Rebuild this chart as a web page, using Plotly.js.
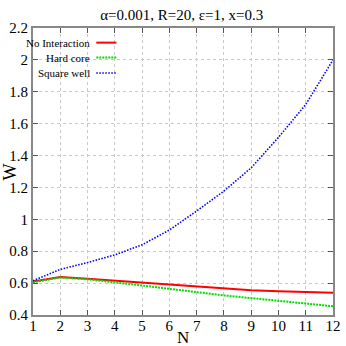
<!DOCTYPE html>
<html>
<head>
<meta charset="utf-8">
<script src="https://cdn.plot.ly/plotly-3.0.1.min.js"></script>
<style>html,body{margin:0;padding:0;background:#fff;}#chart{width:346px;height:346px;}</style>
</head>
<body>
<div id="chart"></div>
<script>
var N = [1, 2, 3, 4, 5, 6, 7, 8, 9, 10, 11, 12];
var noInteraction = [0.610, 0.638, 0.628, 0.616, 0.603, 0.589, 0.576, 0.565, 0.556, 0.549, 0.544, 0.539];
var hardCore = [0.605, 0.635, 0.624, 0.606, 0.585, 0.564, 0.542, 0.523, 0.506, 0.489, 0.472, 0.455];
var squareWell = [0.615, 0.686, 0.729, 0.777, 0.840, 0.933, 1.052, 1.177, 1.323, 1.514, 1.72, 2.0];
var seriesNames = ["No Interaction", "Hard core", "Square well"];
var seriesColors = ["#ff0000", "#00dd00", "#0000ff"];
var seriesDash = ["solid", "2px,1px", "1.5px,1.5px"];
var seriesWidth = [2, 2, 1.6];
var seriesValues = [noInteraction, hardCore, squareWell];
var titleText = "\u03b1=0.001, R=20, \u03b5=1, x=0.3";
var xTitle = "N";
var yTitle = "W";

var font = "Liberation Serif";
var traces = seriesValues.map(function (v, i) {
  return {x: N, y: v, type: "scatter", mode: "lines", name: seriesNames[i],
    line: {color: seriesColors[i], width: seriesWidth[i], dash: seriesDash[i]}, showlegend: false};
});

var legY = [0.949, 0.897, 0.843];
var annotations = seriesNames.map(function (n, i) {
  return {text: n, xref: "paper", yref: "paper", x: 0.197, y: legY[i], xanchor: "right", yanchor: "middle",
    showarrow: false, font: {family: font, size: 11, color: "#000"}};
});
annotations.push({text: xTitle, xref: "paper", yref: "paper", x: 0.5, y: -0.078, xanchor: "center", yanchor: "middle",
  showarrow: false, font: {family: font, size: 17, color: "#000"}});
annotations.push({text: yTitle, xref: "paper", yref: "paper", x: -0.077, y: 0.5, xanchor: "center", yanchor: "middle",
  textangle: -90, showarrow: false, font: {family: font, size: 18, color: "#000"}});
var shapes = seriesNames.map(function (n, i) {
  return {type: "line", xref: "paper", yref: "paper", x0: 0.211, x1: 0.278, y0: legY[i], y1: legY[i],
    line: {color: seriesColors[i], width: seriesWidth[i], dash: seriesDash[i]}};
});

var axisCommon = {
  showline: true, linecolor: "#888", linewidth: 2, mirror: "ticks",
  ticks: "inside", ticklen: 5, tickcolor: "#555", tickwidth: 1,
  showgrid: true, gridcolor: "#c8c8c8", griddash: "dot", gridwidth: 1,
  zeroline: false, automargin: false,
  tickfont: {family: font, size: 15, color: "#000"}
};

var layout = {
  width: 346, height: 346,
  margin: {l: 33, r: 13, t: 28, b: 31},
  paper_bgcolor: "#fff", plot_bgcolor: "#fff",
  title: {text: titleText, font: {family: font, size: 15, color: "#000"}, x: 0.525, xanchor: "center", y: 0.958, yanchor: "middle"},
  xaxis: Object.assign({}, axisCommon, {range: [1, 12], dtick: 1, tick0: 1, ticklabelstandoff: -4}),
  yaxis: Object.assign({}, axisCommon, {range: [0.4, 2.2], dtick: 0.2, tick0: 0.4}),
  annotations: annotations,
  shapes: shapes
};
Plotly.newPlot("chart", traces, layout, {displayModeBar: false, staticPlot: true});
</script>
</body>
</html>
